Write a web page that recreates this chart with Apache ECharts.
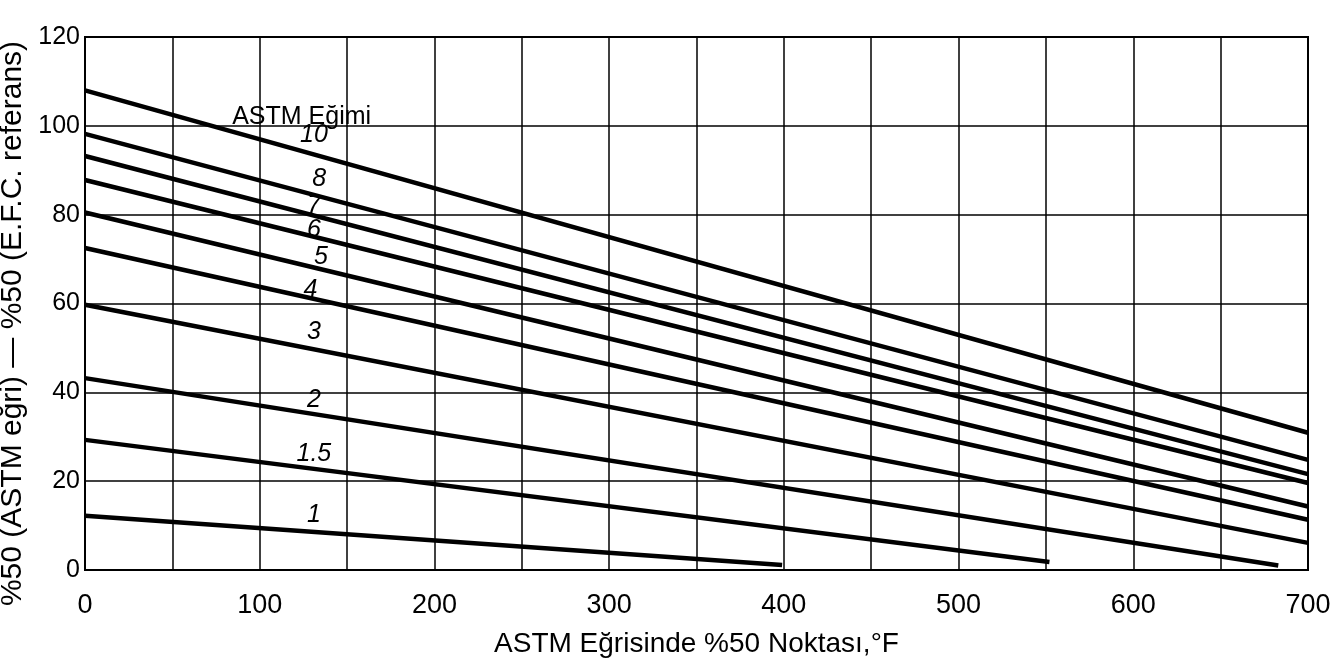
<!DOCTYPE html>
<html>
<head>
<meta charset="utf-8">
<script src="https://cdn.jsdelivr.net/npm/echarts@6/dist/echarts.min.js"></script>
<style>
  html, body { margin: 0; padding: 0; background: #fff; }
  #main { width: 1342px; height: 669px; }
</style>
</head>
<body>
<div id="main"></div>
<script>
// ASTM egim egrileri: baslangic (x=0) ve bitis noktalari
const slopes = ['10', '8', '7', '6', '5', '4', '3', '2', '1.5', '1'];
const startY = [108, 98.2, 93.2, 87.8, 80.5, 72.5, 59.7, 43.2, 29.3, 12.2];
const endX = [700, 700, 700, 700, 700, 700, 700, 683, 552, 399];
const endY = [30.9, 24.8, 21.6, 19.6, 14.3, 11.3, 6.1, 1.0, 1.8, 1.1];

// egri etiketleri (veri koordinatlarinda)
const labelX = [131, 134, 131, 131, 135, 129, 131, 131, 131, 131];
const labelY = [98, 88, 82, 76.5, 70.5, 63, 53.6, 38.3, 26, 12.4];
const legendTitle = 'ASTM Eğimi';

const xTicks = [0, 100, 200, 300, 400, 500, 600, 700];
const yTicks = [0, 20, 40, 60, 80, 100, 120];

const font = '"Liberation Sans", Arial, sans-serif';

const chart = echarts.init(document.getElementById('main'));

const lineSeries = slopes.map((s, i) => ({
  name: s,
  type: 'line',
  symbol: 'none',
  silent: true,
  data: [[0, startY[i]], [endX[i], endY[i]]],
  lineStyle: { color: '#000', width: 4.5 }
}));

const labelData = slopes.map((s, i) => ({ value: [labelX[i], labelY[i], s] }));
// baslik italik degil
labelData.push({ value: [124, 102, legendTitle], label: { fontStyle: 'normal' } });

const labelSeries = {
  type: 'scatter',
  symbolSize: 0,
  silent: true,
  data: labelData,
  itemStyle: { opacity: 1 },
  label: {
    show: true,
    position: 'inside',
    formatter: p => p.value[2],
    color: '#000',
    opacity: 1,
    textBorderWidth: 0,
    fontFamily: font,
    fontSize: 25,
    fontStyle: 'italic'
  }
};

var option = {
  backgroundColor: '#fff',
  animation: false,
  grid: {
    left: 85, right: 34, top: 37, bottom: 99,
    outerBoundsMode: 'none',
    containLabel: false,
    show: true, borderColor: '#000', borderWidth: 2
  },
  xAxis: {
    type: 'value',
    min: 0, max: 700, interval: 50,
    name: 'ASTM Eğrisinde %50 Noktası,°F',
    nameLocation: 'middle',
    nameGap: 60,
    nameTextStyle: { color: '#000', fontFamily: font, fontSize: 28 },
    axisLine: { show: true, lineStyle: { color: '#000', width: 2 } },
    axisTick: { show: false },
    axisLabel: {
      color: '#000', fontFamily: font, fontSize: 27, margin: 22,
      formatter: v => xTicks.indexOf(v) >= 0 ? String(v) : ''
    },
    splitLine: { show: true, lineStyle: { color: '#000', width: 1.5 } }
  },
  yAxis: {
    type: 'value',
    min: 0, max: 120, interval: 20,
    name: '%50 (ASTM eğri) — %50 (E.F.C. referans)',
    nameLocation: 'middle',
    nameGap: 46,
    nameTextStyle: { color: '#000', fontFamily: font, fontSize: 30, padding: [0, 40, 0, 0] },
    axisLine: { show: true, lineStyle: { color: '#000', width: 2 } },
    axisTick: { show: false },
    axisLabel: {
      color: '#000', fontFamily: font, fontSize: 25, margin: 5,
      formatter: v => yTicks.indexOf(v) >= 0 ? String(v) : ''
    },
    splitLine: { show: true, lineStyle: { color: '#000', width: 1.5 } }
  },
  series: lineSeries.concat([labelSeries])
};

chart.setOption(option);
</script>
</body>
</html>
